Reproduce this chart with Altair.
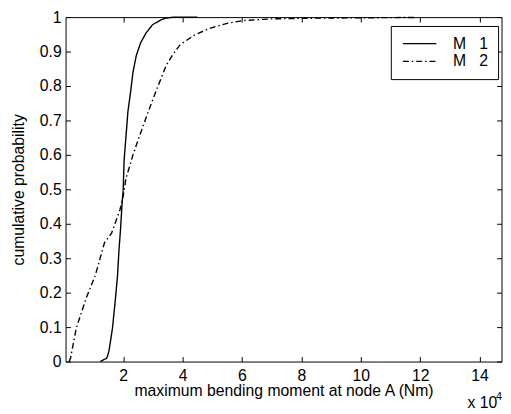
import altair as alt
import pandas as pd

# Data (x in units of 1e4 Nm)
m1_x = [1.23, 1.45, 1.52, 1.64, 1.74, 1.81, 1.86, 1.91, 1.97, 2.00, 2.03, 2.10, 2.16,
        2.25, 2.33, 2.44, 2.59, 2.77, 2.99, 3.27, 3.43, 3.71, 4.5]
m1_p = [0.0, 0.01, 0.03, 0.097, 0.183, 0.25, 0.326, 0.383, 0.469, 0.497, 0.583, 0.66, 0.726,
        0.783, 0.84, 0.888, 0.926, 0.954, 0.978, 0.992, 0.997, 1.0, 1.0]
m2_x = [0.18, 0.23, 0.42, 0.75, 1.06, 1.37, 1.61, 1.89, 2.00, 2.09, 2.33, 2.55, 2.78, 2.95,
        3.15, 3.45, 3.70, 3.92, 4.40, 4.90, 5.50, 6.05, 7.00, 8.50, 10.0, 11.8]
m2_p = [0.0, 0.011, 0.097, 0.183, 0.25, 0.345, 0.373, 0.44, 0.48, 0.53, 0.6, 0.655, 0.71, 0.75,
        0.795, 0.86, 0.895, 0.92, 0.948, 0.967, 0.982, 0.99, 0.995, 0.997, 0.998, 0.999]
series = ["M 1", "M 2"]
x_ticks = [2, 4, 6, 8, 10, 12, 14]
y_ticks = [0, 0.1, 0.2, 0.3, 0.4, 0.5, 0.6, 0.7, 0.8, 0.9, 1]
x_title = "maximum bending moment at node A (Nm)"
y_title = "cumulative probability"
exp_base = "x 10"
exp_power = "4"

df = pd.concat([
    pd.DataFrame({"x": m1_x, "p": m1_p, "series": series[0]}),
    pd.DataFrame({"x": m2_x, "p": m2_p, "series": series[1]}),
], ignore_index=True)

FONT = "Liberation Sans"
W, H = 443, 350

xscale = alt.Scale(domain=[0.06, 14.74], nice=False, zero=False)
yscale = alt.Scale(domain=[0, 1], nice=False, zero=False)

common_axis = dict(grid=False, domain=False, tickColor="black", tickWidth=1,
                   offset=-5, tickSize=5, labelFont=FONT, titleFont=FONT,
                   labelFontSize=16, titleFontSize=16, labelColor="black",
                   titleColor="black", titleFontWeight="normal",
                   labelOverlap=False, labelFlush=False)

main = alt.Chart(df).mark_line(strokeWidth=1.4, color="black").encode(
    x=alt.X("x:Q", scale=xscale,
            axis=alt.Axis(orient="bottom", values=x_ticks, title=x_title,
                          labelPadding=6, titleBaseline="alphabetic", titleY=40,
                          **common_axis)),
    y=alt.Y("p:Q", scale=yscale,
            axis=alt.Axis(orient="left", values=y_ticks, title=y_title, format="~g",
                          labelPadding=4.5, titleAngle=270, titleBaseline="alphabetic",
                          titleX=-47.5, titleY=175, **common_axis)),
    strokeDash=alt.StrokeDash(
        "series:N",
        scale=alt.Scale(domain=series, range=[[1, 0], [6, 3, 1.5, 3]]),
        legend=alt.Legend(title=None, orient="none", legendX=330.5, legendY=9,
                          strokeColor="black", fillColor="white", padding=10,
                          symbolType="M-3,0H3", symbolSize=128, symbolOffset=11.3,
                          symbolStrokeWidth=1.2, symbolStrokeColor="black",
                          labelFontSize=16, labelFont=FONT,
                          labelColor="black", labelOffset=26, rowPadding=2,
                          cornerRadius=0,
                          labelExpr="replace(datum.label, ' ', '\u00a0\u00a0\u00a0')"),
    ),
)

mirror = alt.Chart(df).mark_line(strokeOpacity=0).encode(
    x=alt.X("x:Q", scale=xscale,
            axis=alt.Axis(orient="top", values=x_ticks, title=None, labels=False,
                          grid=False, domain=False, tickColor="black", offset=-5, tickSize=5)),
    y=alt.Y("p:Q", scale=yscale,
            axis=alt.Axis(orient="right", values=y_ticks, title=None, labels=False,
                          grid=False, domain=False, tickColor="black", offset=-5, tickSize=5)),
)

exp1 = alt.Chart(pd.DataFrame({"t": [exp_base]})).mark_text(
    align="left", baseline="alphabetic", fontSize=16, font=FONT, color="black"
).encode(x=alt.value(408.5), y=alt.value(397), text="t:N")

exp2 = alt.Chart(pd.DataFrame({"t": [exp_power]})).mark_text(
    align="left", baseline="alphabetic", fontSize=11, font=FONT, color="black"
).encode(x=alt.value(437.5), y=alt.value(389), text="t:N")

chart = alt.layer(main, mirror, exp1, exp2).resolve_axis(
    x="independent", y="independent"
).properties(
    width=W, height=H,
    autosize=alt.AutoSizeParams(type="none"),
    padding={"left": 58.5, "top": 6, "right": 1.5, "bottom": 48},
    background="white",
).configure_view(stroke="black", strokeWidth=1)

chart.save("out.html", embed_options={"renderer": "svg", "actions": False})
